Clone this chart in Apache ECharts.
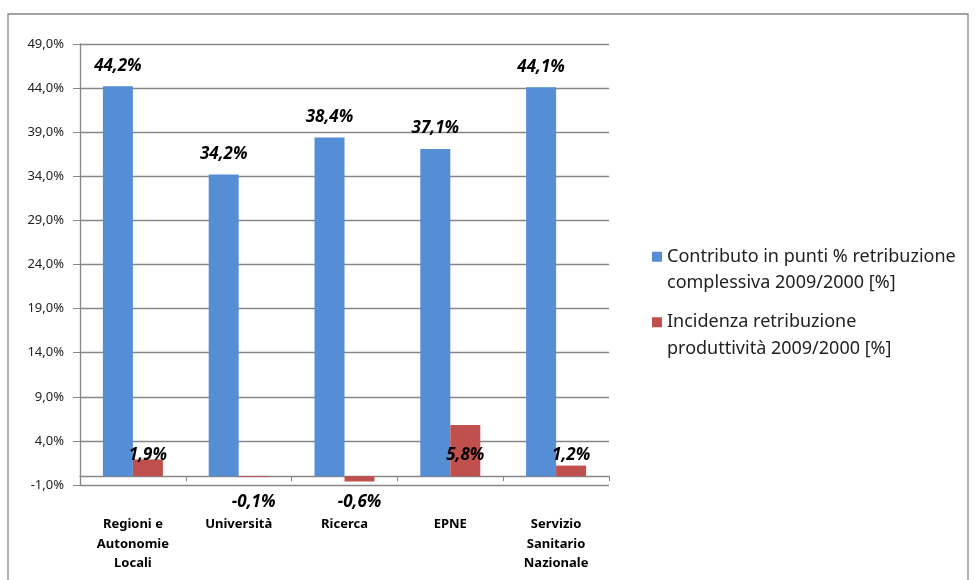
<!DOCTYPE html>
<html lang="it">
<head>
    <meta charset="UTF-8">
    <title>Contributo e incidenza retribuzione 2009/2000</title>
    <script src="https://cdn.jsdelivr.net/npm/echarts@6/dist/echarts.min.js"></script>
    <style>
        html, body { margin: 0; padding: 0; background: #fff; }
        #chart { width: 976px; height: 580px; }
    </style>
</head>
<body>
    <div id="chart"></div>
    <script>
        var categories = ['Regioni e\nAutonomie\nLocali', 'Università', 'Ricerca', 'EPNE', 'Servizio\nSanitario\nNazionale'];
        var contributo = [44.2, 34.2, 38.4, 37.1, 44.1];
        var incidenza = [1.9, -0.1, -0.6, 5.8, 1.2];
        var seriesNames = ['Contributo in punti % retribuzione\ncomplessiva 2009/2000 [%]',
                           'Incidenza retribuzione\nproduttività 2009/2000 [%]'];

        function pct(v) {
            return v.toFixed(1).replace('.', ',') + '%';
        }

        var labelFont = {
            fontFamily: 'Noto Sans',
            fontSize: 17,
            fontWeight: 'bold',
            fontStyle: 'italic',
            color: '#000'
        };

        var chart = echarts.init(document.getElementById('chart'));

        var option = {
            animation: false,
            textStyle: { fontFamily: 'Noto Sans' },
            graphic: [{
                type: 'rect',
                shape: { x: 8, y: 14, width: 960, height: 600 },
                style: { fill: 'none', stroke: '#868686', lineWidth: 1.3 },
                silent: true
            }],
            grid: { left: 80, top: 44, width: 529, height: 441 },
            legend: {
                orient: 'vertical',
                left: 652,
                top: 217,
                padding: 0,
                itemWidth: 10,
                itemHeight: 10,
                itemGap: -14,
                icon: 'rect',
                // leading empty line keeps the square level with the first text line
                formatter: function (name) { return '\n' + name; },
                textStyle: { fontSize: 18, color: '#222', lineHeight: 26.5 },
                data: seriesNames
            },
            xAxis: {
                type: 'category',
                data: categories,
                axisLine: { onZero: true, lineStyle: { color: '#868686', width: 1.3 } },
                axisTick: { show: true, length: 5, lineStyle: { color: '#868686' } },
                axisLabel: {
                    margin: 30,
                    fontSize: 13,
                    fontWeight: 'bold',
                    color: '#000',
                    lineHeight: 19.5
                }
            },
            yAxis: {
                type: 'value',
                min: -1,
                max: 49,
                interval: 5,
                axisLine: { show: true, lineStyle: { color: '#868686', width: 1.3 } },
                axisTick: { show: true, length: 7, lineStyle: { color: '#868686' } },
                splitLine: { lineStyle: { color: '#868686', width: 1.3 } },
                axisLabel: {
                    margin: 16,
                    fontSize: 13,
                    color: '#222',
                    formatter: pct
                }
            },
            series: [
                {
                    name: seriesNames[0],
                    type: 'bar',
                    data: contributo,
                    barWidth: 30,
                    barGap: '0%',
                    itemStyle: { color: '#558ED5' },
                    label: Object.assign({
                        show: true,
                        position: 'top',
                        distance: 12,
                        formatter: function (p) { return pct(p.value); }
                    }, labelFont)
                },
                {
                    name: seriesNames[1],
                    type: 'bar',
                    data: incidenza.map(function (v) {
                        return {
                            value: v,
                            label: v < 0
                                ? { position: ['50%', 26], align: 'center', verticalAlign: 'middle' }
                                : { position: 'insideBottom', distance: 13 }
                        };
                    }),
                    barWidth: 30,
                    barGap: '0%',
                    itemStyle: { color: '#C0504D' },
                    label: Object.assign({
                        show: true,
                        formatter: function (p) { return pct(p.value); }
                    }, labelFont)
                }
            ]
        };

        chart.setOption(option);
    </script>
</body>
</html>
